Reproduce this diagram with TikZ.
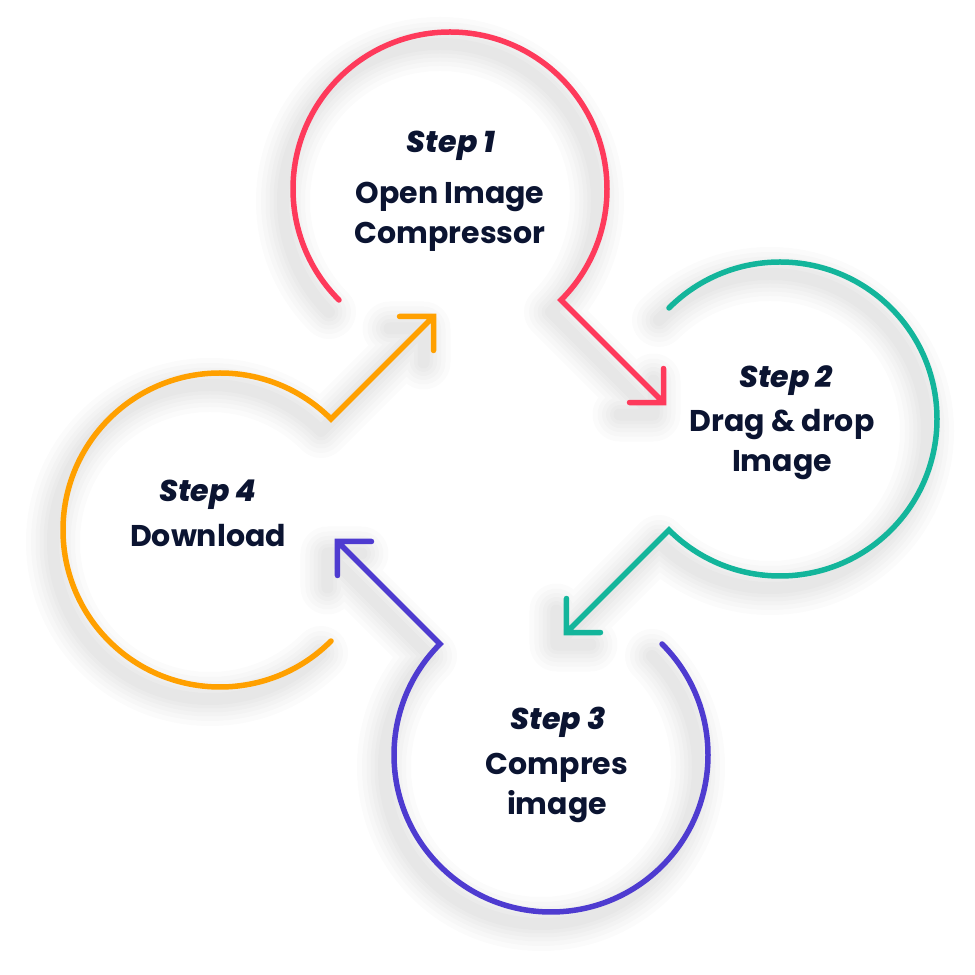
\documentclass[tikz,border=0pt]{standalone}
\usepackage{fontspec}
\setmainfont{Poppins}
\newfontfamily\stepfont{Poppins}[UprightFont=*-ExtraBoldItalic]
\usetikzlibrary{calc}
\definecolor{cred}{HTML}{FE3A5B}
\definecolor{cteal}{HTML}{13B59B}
\definecolor{cpurple}{HTML}{4E3BD0}
\definecolor{corange}{HTML}{FFA000}
\definecolor{ink}{HTML}{0B1431}
\tikzset{
  ring/.style={line width=5.5pt, line cap=round, line join=miter},
  shade1/.style={line width=#1, draw=black, draw opacity=0.014, line cap=round, line join=round},
  steplabel/.style={anchor=base, font=\fontsize{30}{34}\stepfont, text=ink, inner sep=0pt},
  desc/.style={anchor=base, font=\fontsize{30}{36}\selectfont\bfseries, text=ink, inner sep=0pt},
}
\newcommand\ringshape[7]{%
  \draw[#1] (#2) arc[start angle=#3,end angle=#4,radius=157] -- (#5)
    ($(#5)+(#6)$) -- (#5) -- ($(#5)+(#7)$);}
\begin{document}
\begin{tikzpicture}[x=1pt,y=1pt]
\useasboundingbox (0,0) rectangle (975,975);
% centers
\coordinate (c1) at (450,786);
\coordinate (c2) at (780,556);
\coordinate (c3) at (551,220);
\coordinate (c4) at (220,445);
% arc starts, corners, tips
\coordinate (a1) at ($(c1)+(225:157)$);
\coordinate (k1) at ($(c1)+(-45:157)$);
\coordinate (t1) at ($(k1)+(102.5,-102.5)$);
\coordinate (a2) at ($(c2)+(135:157)$);
\coordinate (k2) at ($(c2)+(-135:157)$);
\coordinate (t2) at ($(k2)+(-102.5,-102.5)$);
\coordinate (a3) at ($(c3)+(45:157)$);
\coordinate (k3) at ($(c3)+(135:157)$);
\coordinate (t3) at ($(k3)+(-102.5,102.5)$);
\coordinate (a4) at ($(c4)+(-45:157)$);
\coordinate (k4) at ($(c4)+(45:157)$);
\coordinate (t4) at ($(k4)+(102.5,102.5)$);
% soft shadows
\begin{scope}[transform canvas={shift={(-10pt,-12pt)}}]
\foreach \w in {54,44,35,27,19,12} {
  \ringshape{shade1=\w pt}{a1}{225}{-45}{t1}{-34,0}{0,34}
  \ringshape{shade1=\w pt}{a2}{135}{-135}{t2}{0,34}{34,0}
  \ringshape{shade1=\w pt}{a3}{45}{-225}{t3}{34,0}{0,-34}
  \ringshape{shade1=\w pt}{a4}{-45}{-315}{t4}{-34,0}{0,-34}
}
\end{scope}
% rings with arrows
\ringshape{ring,cred}{a1}{225}{-45}{t1}{-34,0}{0,34}
\ringshape{ring,cteal}{a2}{135}{-135}{t2}{0,34}{34,0}
\ringshape{ring,cpurple}{a3}{45}{-225}{t3}{34,0}{0,-34}
\ringshape{ring,corange}{a4}{-45}{-315}{t4}{-34,0}{0,-34}
% texts
\node[steplabel] (s1) at (451,822) {Step 1};
\node[desc] (d1a) at (450,771) {Open Image};
\node[desc] (d1b) at (450,731) {Compressor};
\node[steplabel] (s2) at (786,587) {Step 2};
\node[desc] (d2a) at (782,543) {Drag \& drop};
\node[desc] (d2b) at (782,503) {Image};
\node[steplabel] (s3) at (558,245) {Step 3};
\node[desc] (d3a) at (557,200) {Compres};
\node[desc] (d3b) at (557,160) {image};
\node[steplabel] (s4) at (208,473) {Step 4};
\node[desc] (d4a) at (208,428) {Download};
\end{tikzpicture}
\end{document}
